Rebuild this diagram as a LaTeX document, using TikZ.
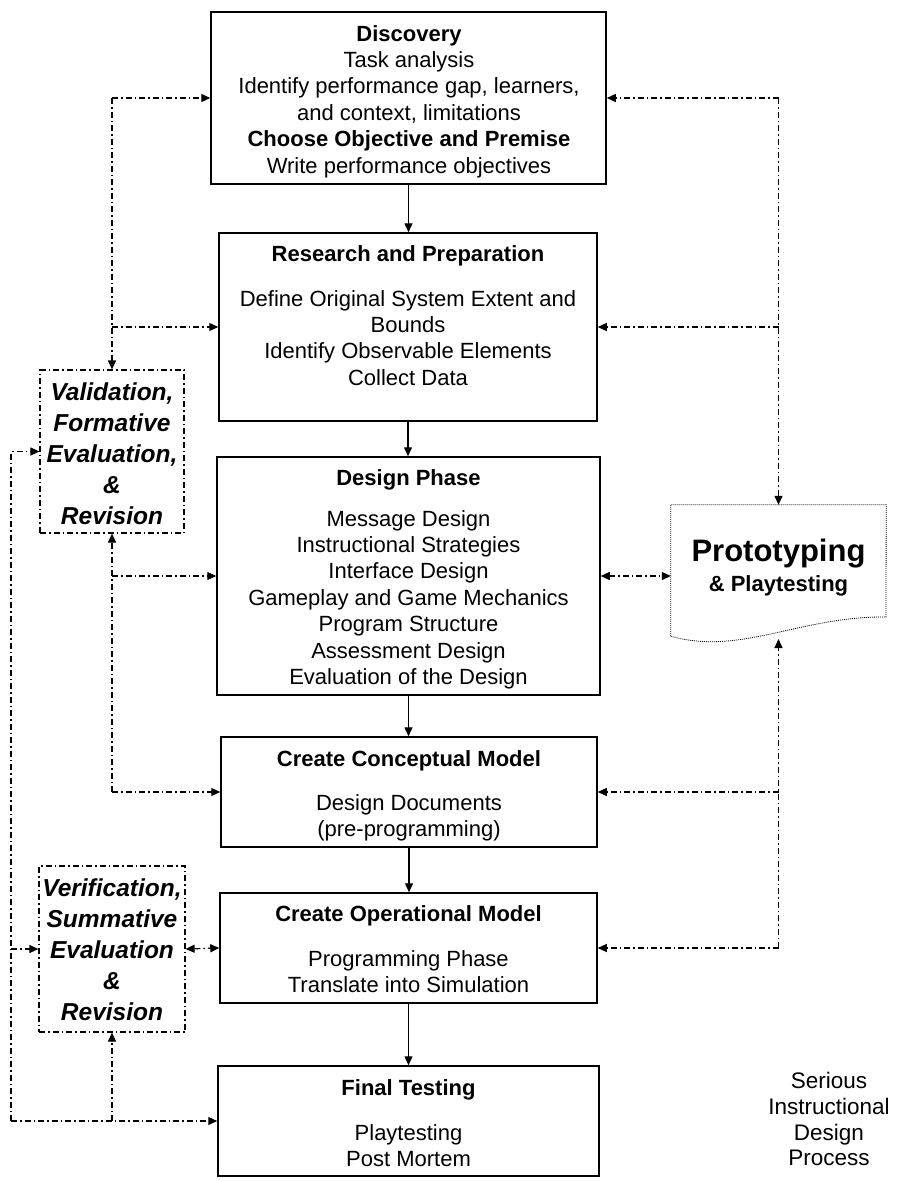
\documentclass[tikz,border=0pt]{standalone}
\usepackage{fontspec}
\setmainfont{Liberation Sans}
\usetikzlibrary{arrows.meta}
\begin{document}
\begin{tikzpicture}[x=1pt,y=-1pt,
  box/.style={draw, line width=1.5pt, rectangle, inner sep=0pt},
  txt/.style={align=center, inner sep=0pt, anchor=north, font=\fontsize{22}{26.4}\selectfont},
  vtxt/.style={align=center, inner sep=0pt, anchor=north, font=\fontsize{24.5}{31}\selectfont\bfseries\itshape},
  stxt/.style={align=center, inner sep=0pt, anchor=north, font=\fontsize{22.5}{25.8}\selectfont},
  tip/.tip={Triangle[length=9pt,width=8pt]},
  flow/.style={line width=1.4pt, -tip},
  fb/.style={line width=1.2pt, dash pattern=on 6pt off 3pt on 1.5pt off 3pt},
  fba/.style={fb, -tip},
  fbb/.style={fb, tip-tip},
  evbox/.style={draw, fb, rectangle, inner sep=0pt},
]
\useasboundingbox (0,0) rectangle (898,1181);

% main boxes
\node[box, minimum width=395pt, minimum height=172pt] (disc) at (408.5,98) {};
\node[box, minimum width=378pt, minimum height=188pt] (res) at (408,327) {};
\node[box, minimum width=383pt, minimum height=238pt] (des) at (408.5,576) {};
\node[box, minimum width=376pt, minimum height=110pt] (con) at (409,792) {};
\node[box, minimum width=377pt, minimum height=110pt] (ope) at (408.5,948) {};
\node[box, minimum width=381pt, minimum height=110pt] (fin) at (408.5,1121) {};

% evaluation boxes
\node[evbox, minimum width=144pt, minimum height=163pt] (val) at (112,451.5) {};
\node[evbox, minimum width=146pt, minimum height=166pt] (ver) at (112,949) {};

% prototyping (document shape)
\node[inner sep=0pt, minimum width=215pt, minimum height=131pt] (proto) at (778.5,570.5) {};
\draw[line width=0.8pt, dash pattern=on 1pt off 1pt]
  (proto.south west) -- (proto.north west) -- (proto.north east) -- (886,617)
  .. controls (800,616) and (740,656) .. (proto.south west);

% texts
\node[txt] (discT) at (409,25) {\textbf{Discovery}\\Task analysis\\Identify performance gap, learners,\\and context, limitations\\\textbf{Choose Objective and Premise}\\Write performance objectives};
\node[txt] (resT) at (408,245) {\textbf{Research and Preparation}\\[18.6pt]Define Original System Extent and\\Bounds\\Identify Observable Elements\\Collect Data};
\node[txt] (desT) at (408.5,469) {\textbf{Design Phase}\\[14.6pt]Message Design\\Instructional Strategies\\Interface Design\\Gameplay and Game Mechanics\\Program Structure\\Assessment Design\\Evaluation of the Design};
\node[txt] (conT) at (409,750) {\textbf{Create Conceptual Model}\\[17.6pt]Design Documents\\(pre-programming)};
\node[txt] (opeT) at (408.5,905) {\textbf{Create Operational Model}\\[18.6pt]Programming Phase\\Translate into Simulation};
\node[txt] (finT) at (408.5,1079) {\textbf{Final Testing}\\[18.6pt]Playtesting\\Post Mortem};
\node[vtxt] (valT) at (112,383) {Validation,\\Formative\\Evaluation,\\\&\\Revision};
\node[vtxt] (verT) at (112,879) {Verification,\\Summative\\Evaluation\\\&\\Revision};
\node[inner sep=0pt, anchor=base, font=\fontsize{31}{31}\selectfont\bfseries] (protoT1) at (778.5,561) {Prototyping};
\node[inner sep=0pt, anchor=base, font=\fontsize{22}{22}\selectfont\bfseries] (protoT2) at (778.5,591) {\& Playtesting};
\node[stxt] (serT) at (829,1072) {Serious\\Instructional\\Design\\Process};

% main flow
\draw[flow] (disc.south) -- (disc.south |- res.north);
\draw[flow] (res.south) -- (res.south |- des.north);
\draw[flow] (des.south) -- (des.south |- con.north);
\draw[flow] (con.south) -- (con.south |- ope.north);
\draw[flow] (ope.south) -- (ope.south |- fin.north);

% left upper feedback
\coordinate (L1) at (val.north |- disc.west);
\coordinate (L2) at (val.north |- res.west);
\coordinate (L3) at (val.south |- des.west);
\coordinate (L4) at (val.south |- con.west);
\draw[fba] (L1) -- (disc.west);
\draw[fba] (L1) -- (val.north);
\draw[fba] (L2) -- (res.west);
\draw[fba] (L4) -- (val.south);
\draw[fba] (L3) -- (des.west);
\draw[fba] (L4) -- (con.west);

% left outer feedback
\coordinate (O3) at (11,1121);
\coordinate (O2) at (O3 |- ver.west);
\coordinate (B1) at (ver.south |- fin.west);
\draw[fba] (O3) |- (val.west);
\draw[fba] (O3) -- (fin.west);
\draw[fba] (O2) -- (ver.west);
\draw[fba] (B1) -- (ver.south);
\draw[fbb] (ver.east) -- (ope.west);

% right feedback
\coordinate (R1) at (proto.north |- disc.east);
\coordinate (R2) at (proto.north |- res.east);
\coordinate (PB) at (778.5,639);
\coordinate (R3) at (proto.north |- con.east);
\coordinate (R4) at (proto.north |- ope.east);
\draw[fba] (R1) -- (disc.east);
\draw[fba] (R1) -- (proto.north);
\draw[fba] (R2) -- (res.east);
\draw[fbb] (des.east) -- (proto.west |- des.east);
\draw[fba] (R4) -- (PB);
\draw[fba] (R3) -- (con.east);
\draw[fba] (R4) -- (ope.east);
\end{tikzpicture}
\end{document}
